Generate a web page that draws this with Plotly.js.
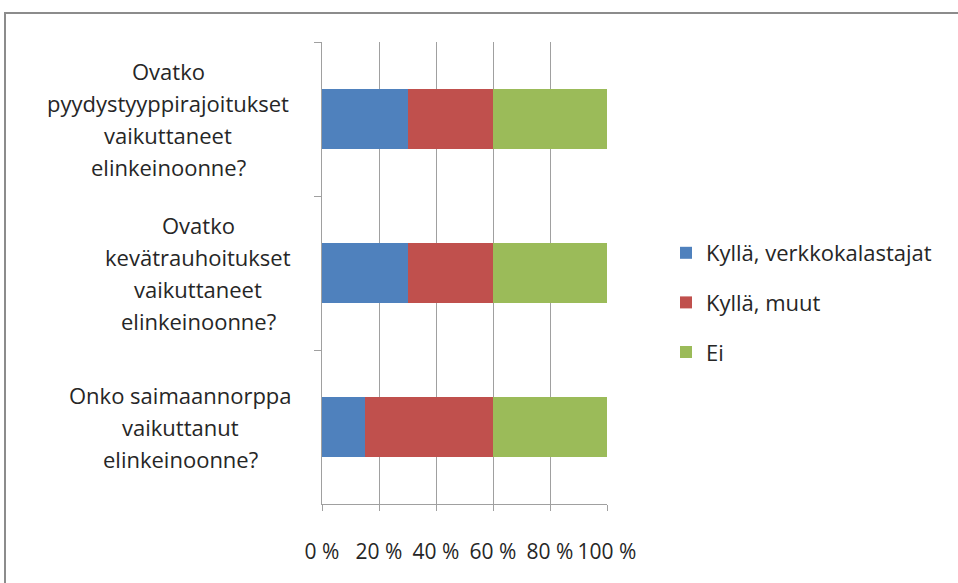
<!DOCTYPE html>
<html>
<head>
<meta charset="utf-8">
<script src="https://cdn.plot.ly/plotly-3.0.1.min.js"></script>
<style>html,body{margin:0;padding:0;background:#fff;}#chart{width:958px;height:583px;}</style>
</head>
<body>
<div id="chart"></div>
<script>
// ---- data ----
var categories = [
  "Ovatko pyydystyyppirajoitukset vaikuttaneet elinkeinoonne?",
  "Ovatko kevätrauhoitukset vaikuttaneet elinkeinoonne?",
  "Onko saimaannorppa vaikuttanut elinkeinoonne?"
];
var categoryLines = [
  ["Ovatko", "pyydystyyppirajoitukset", "vaikuttaneet", "elinkeinoonne?"],
  ["Ovatko", "kevätrauhoitukset", "vaikuttaneet", "elinkeinoonne?"],
  ["Onko saimaannorppa", "vaikuttanut", "elinkeinoonne?"]
];
var seriesNames = ["Kyllä, verkkokalastajat", "Kyllä, muut", "Ei"];
var kyllaVerkko = [0.30, 0.30, 0.15];
var kyllaMuut   = [0.30, 0.30, 0.45];
var ei          = [0.40, 0.40, 0.40];
var tickVals  = [0, 0.2, 0.4, 0.6, 0.8, 1.0];
var tickTexts = ["0 %", "20 %", "40 %", "60 %", "80 %", "100 %"];

// ---- styling / layout ----
var W = 958, H = 583;
var L = 322, R = 607, T = 42, B = 504;
function px2x(p){ return (p - L) / (R - L); }
function py2y(p){ return (B - p) / (B - T); }
var FONT = "'Open Sans', sans-serif";
var FS = 22, FS_TICK = 21;
var TXT = "#262626";
var colors = ["#4F81BD", "#C0504D", "#9BBB59"];
var seriesVals = [kyllaVerkko, kyllaMuut, ei];

var traces = seriesVals.map(function(vals, i){
  return {
    type: "bar", orientation: "h",
    name: seriesNames[i], legendgroup: "g" + i,
    x: vals, y: categories,
    marker: {color: colors[i], line: {width: 0}},
    hoverinfo: "name+x"
  };
});

var labelCenters = [168, 198, 180];
var annotations = [];
categoryLines.forEach(function(lines, ci){
  var n = lines.length;
  lines.forEach(function(txt, li){
    annotations.push({
      xref: "paper", yref: "y",
      x: px2x(labelCenters[ci]), y: categories[ci],
      xanchor: "center", yanchor: "middle",
      yshift: ((n - 1) / 2 - li) * 32,
      text: txt, showarrow: false,
      font: {family: FONT, size: FS, color: TXT}
    });
  });
});

var layout = {
  width: W, height: H,
  margin: {l: L, r: W - R, t: T, b: H - B, pad: 0},
  paper_bgcolor: "#ffffff", plot_bgcolor: "#ffffff",
  barmode: "stack", bargap: 0.604,
  font: {family: FONT, size: FS, color: TXT},
  xaxis: {
    range: [0, 1], fixedrange: true,
    tickvals: tickVals, ticktext: tickTexts,
    showgrid: true, gridcolor: "#a0a0a0", gridwidth: 1,
    showline: true, linecolor: "#a0a0a0", linewidth: 1,
    ticks: "outside", ticklen: 6, tickcolor: "#a0a0a0", tickwidth: 1,
    ticklabelstandoff: 23,
    tickfont: {family: FONT, size: FS_TICK, color: TXT},
    zeroline: false
  },
  yaxis: {
    type: "category", categoryarray: categories, categoryorder: "array",
    autorange: "reversed", fixedrange: true,
    showgrid: false, zeroline: false,
    showline: true, linecolor: "#a0a0a0", linewidth: 1,
    ticks: "outside", tickson: "boundaries", ticklen: 7, tickcolor: "#a0a0a0", tickwidth: 1,
    showticklabels: false
  },
  legend: {
    x: px2x(666), y: py2y(232), xanchor: "left", yanchor: "top",
    traceorder: "grouped", tracegroupgap: 18,
    font: {family: FONT, size: FS, color: TXT},
    bgcolor: "rgba(0,0,0,0)", borderwidth: 0
  },
  annotations: annotations,
  shapes: [{
    type: "rect", xref: "paper", yref: "paper",
    x0: px2x(5), x1: px2x(970), y0: py2y(600), y1: py2y(13),
    line: {color: "#8c8c8c", width: 2}, fillcolor: "rgba(0,0,0,0)", layer: "below"
  }],
  showlegend: true
};

Plotly.newPlot("chart", traces, layout, {displayModeBar: false, staticPlot: true});
</script>
</body>
</html>
